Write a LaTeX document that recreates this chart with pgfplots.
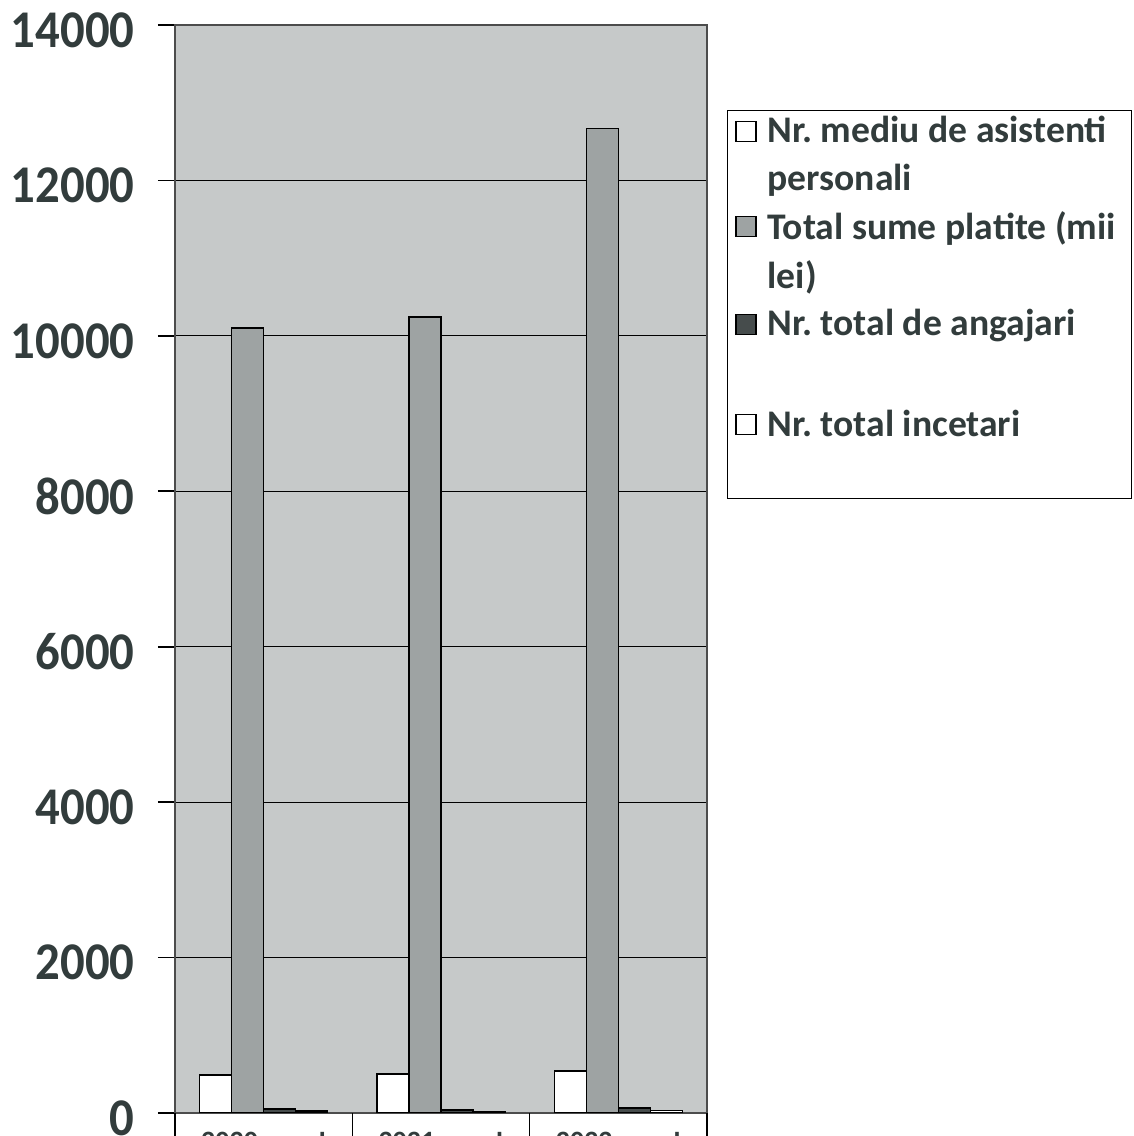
\documentclass[border=0pt]{standalone}
\usepackage{pgfplots}
\pgfplotsset{compat=1.18}
\usepackage{fontspec}
\setmainfont{Carlito}
\newfontfamily\tickfont[FakeStretch=0.92]{Carlito}
\definecolor{bg}{RGB}{198,201,201}
\definecolor{barB}{RGB}{158,163,163}
\definecolor{barC}{RGB}{70,76,76}
\definecolor{txt}{RGB}{50,60,60}
\begin{document}
\frenchspacing
\begin{tikzpicture}
\begin{axis}[
  scale only axis,
  width=266pt, height=544pt,
  ymin=0, ymax=14000,
  ytick={0,2000,...,14000},
  ymajorgrids,
  grid style={black, line width=0.6pt},
  xmin=-0.5, xmax=2.5,
  xtick={0,1,2},
  xticklabels={2020 sem I,2021 sem I,2022 sem I},
  x tick style={draw=none},
  y tick style={black, line width=0.8pt},
  tick align=outside,
  major tick length=8.5pt,
  ytick pos=left,
  xtick pos=bottom,
  axis line style={draw=black!70, line width=0.6pt},
  axis background/.style={fill=bg},
  scaled y ticks=false,
  yticklabel style={/pgf/number format/1000 sep={}, font=\tickfont\fontsize{26.5}{30}\selectfont\bfseries, text=txt, xshift=-8.2pt, yshift=-2.5pt},
  /pgf/number format/assume math mode=true,
  xticklabel style={font=\fontsize{14}{17}\selectfont\bfseries, text=txt, yshift=2.7pt},
  ybar=0pt, bar width=16pt,
  legend style={at={(rel axis cs:1,1)}, anchor=north west, xshift=10pt, yshift=-42.5pt,
    draw=black, fill=white, font=\fontsize{18.8}{23}\selectfont\bfseries, text=txt,
    inner xsep=4pt, inner ysep=3pt, row sep=9.05pt, column sep=3.5pt,
    nodes={inner ysep=0pt}},
  legend cell align=left,
  legend image code/.code={\draw[#1, draw=black, line width=0.6pt] (0pt,-5pt) rectangle (10pt,5pt);},
]
\addplot[fill=white, draw=black, line width=0.8pt] coordinates {(0,490) (1,500) (2,540)};
\addlegendentry{Nr.\ mediu de asistenti}
\addlegendimage{empty legend}
\addlegendentry{personali}
\addplot[fill=barB, draw=black, line width=0.8pt] coordinates {(0,10100) (1,10240) (2,12670)};
\addlegendentry{Total sume platite (mii\hspace*{2pt}}
\addlegendimage{empty legend}
\addlegendentry{lei)}
\addplot[fill=barC, draw=black, line width=0.8pt] coordinates {(0,50) (1,35) (2,65)};
\addlegendentry{Nr.\ total de angajari}
\addlegendimage{empty legend}
\addlegendentry{\strut}
\addplot[fill=white, draw=black, line width=0.8pt] coordinates {(0,25) (1,20) (2,30)};
\addlegendentry{Nr.\ total incetari}
\addlegendimage{empty legend}
\addlegendentry{\strut}
\coordinate (sw) at (rel axis cs:0,0);
\coordinate (ne) at (rel axis cs:1,1);
\coordinate (s0) at (axis cs:-0.5,0);
\coordinate (s1) at (axis cs:0.5,0);
\coordinate (s2) at (axis cs:1.5,0);
\coordinate (s3) at (axis cs:2.5,0);
\end{axis}
\foreach \s in {s0,s1,s2,s3}
  \draw[black, line width=0.8pt] (\s) -- ++(0,-40pt);
\pgfresetboundingbox
\useasboundingbox ([xshift=-87.5pt,yshift=-11.5pt]sw) rectangle ([xshift=213.5pt,yshift=12.5pt]ne);
\end{tikzpicture}
\end{document}
